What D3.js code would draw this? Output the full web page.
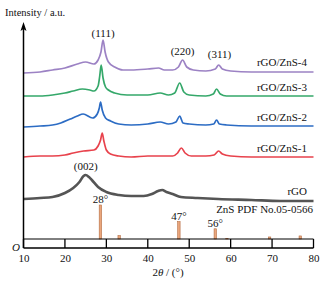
<!DOCTYPE html>
<html><head><meta charset="utf-8">
<script src="https://cdn.jsdelivr.net/npm/d3@7/dist/d3.min.js"></script>
<style>body{margin:0;background:#fff}svg{display:block}svg text{font-family:"Liberation Serif","Times New Roman",Times,serif !important;fill:#111}</style>
</head><body><svg id="c" width="325" height="290"></svg>
<script>
// 2θ (deg) / intensity (a.u., offset-stacked) pairs
const zns4 = [[10,175],[14,176],[17,178],[20,180],[23,184],[25,186],[27,184],[28,188],[28.7,196],[29.2,208],[29.7,196],[30.5,186],[32,181],[34,178],[36,178],[40,179],[42.6,180],[44,178],[46,178],[47.4,181],[48.4,188],[49.4,181],[51,178],[54,177],[56.3,179],[57.1,183],[58,179],[60,177],[65,176],[70,176],[75,176],[80,176]];
const zns3 = [[10,152],[14,152],[17,153],[20,155],[22,157],[24.2,159],[26,158],[27,157],[28,162],[28.4,172],[28.75,183],[29.2,170],[29.8,161],[30.5,158],[32,155],[35,153],[40,153],[43,155],[45,153],[46.5,155],[47.7,165],[48.7,156],[50,153],[54,152],[55.8,154],[56.6,159],[57.5,154],[59,152],[65,152],[80,152]];
const zns2 = [[10,121],[14,122],[17,123],[19,125],[21.3,129],[23,132],[24.4,134],[26.7,130],[27.8,134],[28.3,140],[28.6,146],[29,138],[29.8,130],[31,127],[33,124],[36,123],[40,124],[43,126],[45,124],[46.8,126],[47.7,132],[48.5,125],[50,124],[54,123],[55.9,124],[56.6,128],[57.3,124],[59,123],[65,122],[80,122]];
const zns1 = [[10,91],[14,92],[17,92],[20,93],[22,95],[24.5,97],[27,98],[28,102],[28.6,108],[29,115],[29.4,107],[30,98],[31,94],[33,92],[36,91],[40,92],[43,92],[46,92],[47.2,95],[48.1,100],[49,95],[50.5,92],[54,92],[56,93],[57.1,97],[58,94],[60,92],[65,91],[80,91]];
const rgo = [[10,49],[14,50],[17,51],[20,55],[22,60],[23.5,66],[24.5,72],[25,73],[25.8,71],[26.5,68],[28,61],[30,56],[33,53],[36,52],[39,52],[41,54],[42.5,57],[43.5,58],[44.5,56],[46,54],[48,51],[52,50],[57,49],[65,48],[72,47],[80,47]];
// ZnS PDF No.05-0566 reference lines: 2θ and relative intensity
const pdfAngles = [28.56, 33.09, 47.51, 56.29, 59.1, 69.4, 76.8];
const pdfIntens = [100, 10, 51, 30, 2, 6, 9];
const seriesNames = ["rGO/ZnS-4","rGO/ZnS-3","rGO/ZnS-2","rGO/ZnS-1","rGO"];
const seriesColors = ["#9c82c4","#35a86a","#2c6cc4","#e8424c","#555555"];
const seriesData = [zns4, zns3, zns2, zns1, rgo];
const labelY = [182, 157, 127, 96, 53];
const xTicks = [10,20,30,40,50,60,70,80];
const peakLabels = [["(111)",29.2,211],["(220)",48.4,193],["(311)",57.3,190],["(002)",25,78]];
const stickLabels = [["28°",28.56],["47°",47.51],["56°",56.29]];

const FONT = "Liberation Serif, Times New Roman, serif";
const svg = d3.select("#c");
const x = d3.scaleLinear().domain([10,80]).range([23.5,313.5]);
const y = d3.scaleLinear().domain([0,226]).range([248,22]);
const yS = d3.scaleLinear().domain([0,100]).range([239,205]);

function txt(xx, yy, s, anchor, size){
  return svg.append("text").attr("x",xx).attr("y",yy).attr("text-anchor",anchor||"start")
    .attr("font-size",size||11).attr("font-family",FONT).text(s);
}

// curves
const line = d3.line().x(d=>x(d[0])).y(d=>y(d[1])).curve(d3.curveMonotoneX);
seriesData.forEach((s,i)=>{
  svg.append("path").attr("d",line(s)).attr("fill","none")
    .attr("stroke",seriesColors[i]).attr("stroke-width", i===4?2.6:1.7)
    .attr("stroke-linejoin","round");
});
// series labels
seriesNames.forEach((n,i)=>{ txt(307, y(labelY[i]), n, "end"); });
// peak labels
peakLabels.forEach(p=>{ txt(x(p[1]), y(p[2]), p[0], "middle"); });
// PDF sticks
pdfAngles.forEach((a,i)=>{
  svg.append("rect").attr("x",x(a)-1.2).attr("width",2.4)
    .attr("y",yS(pdfIntens[i])).attr("height",yS(0)-yS(pdfIntens[i]))
    .attr("fill","#eaa67c").attr("stroke","#b56d42").attr("stroke-width",0.6);
});
stickLabels.forEach(s=>{
  const i = pdfAngles.indexOf(s[1]);
  txt(x(s[1]), yS(pdfIntens[i])-2, s[0], "middle");
});
txt(313, 213, "ZnS PDF No.05-0566", "end");

// axes
const ax = d3.axisBottom(x).tickValues(xTicks).tickSize(0).tickPadding(6);
const g = svg.append("g").attr("transform","translate(0,248)").call(ax).attr("font-family",FONT);
g.select(".domain").remove();
g.selectAll("text").attr("font-size",11).attr("fill","#111").attr("font-family",FONT);
svg.append("line").attr("x1",x(10)).attr("x2",x(80)).attr("y1",248).attr("y2",248).attr("stroke","#000").attr("stroke-width",1.5);
svg.append("line").attr("x1",x(10)).attr("x2",x(80)).attr("y1",239).attr("y2",239).attr("stroke","#000").attr("stroke-width",1);
xTicks.forEach(t=>{
  svg.append("line").attr("x1",x(t)).attr("x2",x(t)).attr("y1",248).attr("y2",239).attr("stroke","#000").attr("stroke-width",1.3);
});
// y axis with arrow
svg.append("line").attr("x1",x(10)).attr("x2",x(10)).attr("y1",248).attr("y2",28).attr("stroke","#000").attr("stroke-width",1.5);
svg.append("path").attr("d",`M${x(10)},${y(226)} L${x(10)-3},${y(226)+9} L${x(10)},${y(226)+7} L${x(10)+3},${y(226)+9} Z`).attr("fill","#000");
txt(5, 16, "Intensity / a.u.", "start", 10.5);
txt(12, 251, "O").attr("font-style","italic");
const xt = txt(168, 276, "", "middle");
xt.append("tspan").text("2");
xt.append("tspan").attr("font-style","italic").text("θ");
xt.append("tspan").text(" / (°)");
</script></body></html>
